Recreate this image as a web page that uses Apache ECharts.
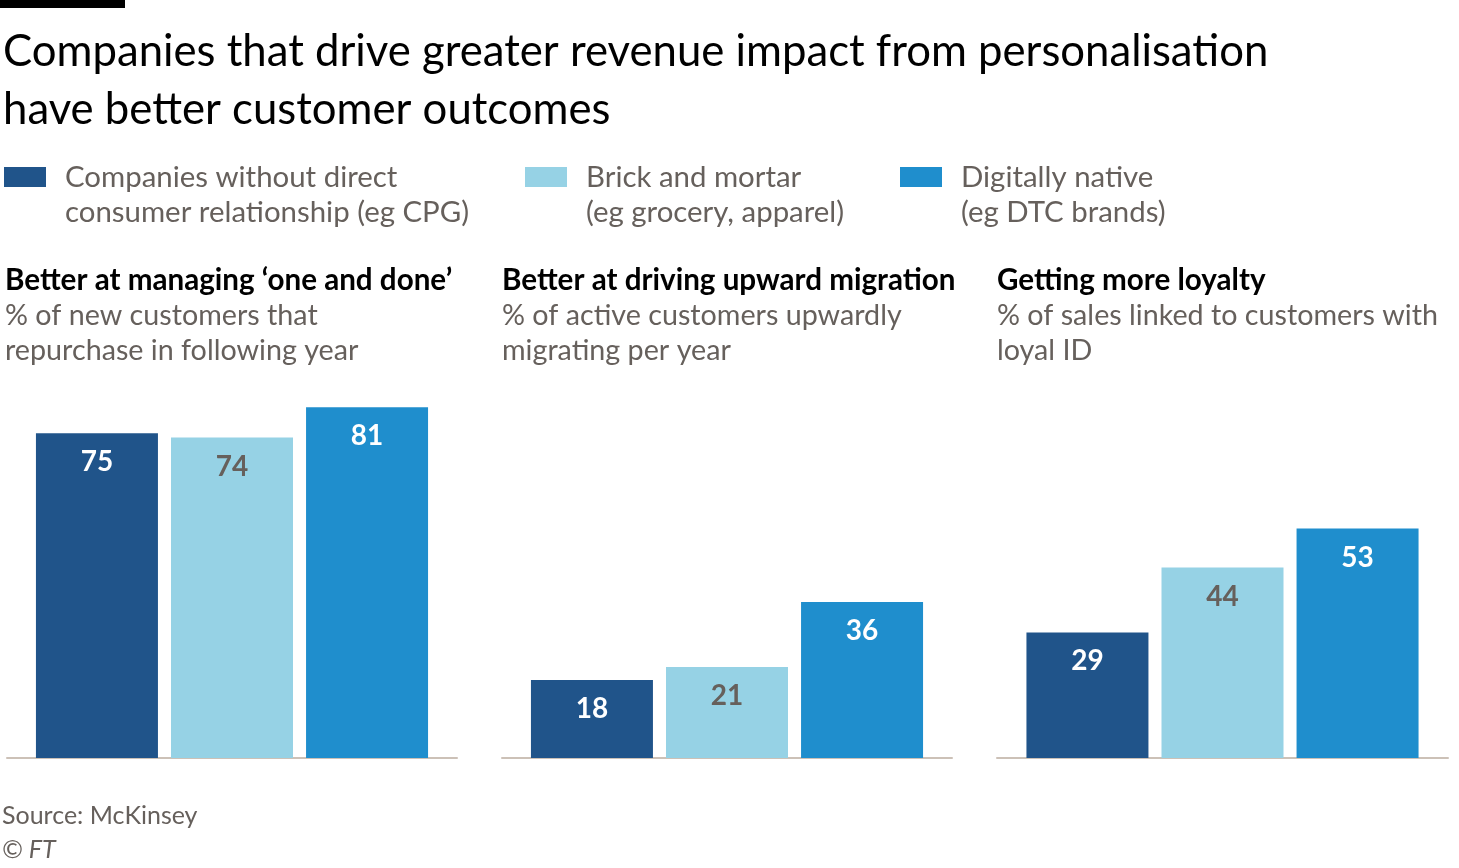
<!DOCTYPE html>
<html>
<head>
<meta charset="utf-8">
<script src="https://cdn.jsdelivr.net/npm/echarts@6/dist/echarts.min.js"></script>
<style>
  html, body { margin: 0; padding: 0; background: #fff; }
  #chart { width: 1459px; height: 868px; }
</style>
</head>
<body>
<div id="chart"></div>
<script>
// groups shown in the legend
var groups = ['Companies without direct\nconsumer relationship (eg CPG)', 'Brick and mortar\n(eg grocery, apparel)', 'Digitally native\n(eg DTC brands)'];
var groupColors = ['#20548a', '#96d2e5', '#1f8ecd'];
var labelColors = ['#ffffff', '#66605c', '#ffffff'];

// panels
var panelTitles = ['Better at managing \u2018one and done\u2019', 'Better at driving upward migration', 'Getting more loyalty'];
var panelSubtitles = ['% of new customers that\nrepurchase in following year', '% of active customers upwardly\nmigrating per year', '% of sales linked to customers with\nloyal ID'];

// values per panel, in group order
var oneAndDone = [75, 74, 81];
var upwardMigration = [18, 21, 36];
var loyalty = [29, 44, 53];
var panelValues = [oneAndDone, upwardMigration, loyalty];

var panelLeft = [7, 502, 997];
var panelTextX = [5, 502, 997];
var panelWidth = 450;

var FONT = 'Lato';
var GREY = '#66605c';

var myChart = echarts.init(document.getElementById('chart'));

var grids = [], xAxes = [], yAxes = [], series = [];
for (var p = 0; p < 3; p++) {
    grids.push({left: panelLeft[p], width: panelWidth + (p === 2 ? 1 : 0), top: 325, bottom: 110});
    xAxes.push({
        type: 'category',
        gridIndex: p,
        data: [''],
        axisLine: {lineStyle: {color: '#ccc1b7', width: 2}},
        axisTick: {show: false},
        axisLabel: {show: false}
    });
    yAxes.push({
        type: 'value',
        gridIndex: p,
        min: 0,
        max: 100,
        show: false,
        splitLine: {show: false}
    });
    for (var g = 0; g < 3; g++) {
        series.push({
            name: groups[g],
            type: 'bar',
            xAxisIndex: p,
            yAxisIndex: p,
            barWidth: 122,
            barGap: '10.7%',
            itemStyle: {color: groupColors[g]},
            label: {
                show: true,
                position: 'insideTop',
                distance: 15,
                color: labelColors[g],
                fontFamily: FONT,
                fontWeight: 'bold',
                fontSize: 28
            },
            silent: true,
            animation: false,
            data: [panelValues[p][g]]
        });
    }
}

var graphics = [
    {type: 'rect', left: 0, top: 0, shape: {width: 125, height: 8}, style: {fill: '#000'}},
    {type: 'text', left: 3, top: 23, style: {
        text: 'Companies that drive greater revenue impact from personalisation\nhave better customer outcomes',
        fill: '#000', font: '43.7px ' + FONT, lineHeight: 58
    }}
];

var legendX = [4, 525, 900];
for (var i = 0; i < 3; i++) {
    graphics.push({type: 'rect', left: legendX[i], top: 167, shape: {width: 42, height: 20}, style: {fill: groupColors[i]}});
    graphics.push({type: 'text', left: legendX[i] + 61, top: 160, style: {
        text: groups[i], fill: GREY, font: '29.4px ' + FONT, lineHeight: 35
    }});
}

for (var j = 0; j < 3; j++) {
    var tx = panelTextX[j];
    graphics.push({type: 'text', left: tx, top: 262, style: {
        text: panelTitles[j], fill: '#000', font: 'bold 29.6px ' + FONT, lineHeight: 36
    }});
    graphics.push({type: 'text', left: tx, top: 298, style: {
        text: panelSubtitles[j], fill: GREY, font: '28.7px ' + FONT, lineHeight: 35
    }});
}

graphics.push({type: 'text', left: 2, top: 803, style: {text: 'Source: McKinsey', fill: GREY, font: '25px ' + FONT}});
graphics.push({type: 'text', left: 2, top: 837, style: {text: '\u00a9 FT', fill: GREY, font: 'italic 25px ' + FONT}});

var option = {
    backgroundColor: '#fff',
    animation: false,
    grid: grids,
    xAxis: xAxes,
    yAxis: yAxes,
    series: series,
    graphic: graphics
};
myChart.setOption(option, false);
</script>
</body>
</html>
